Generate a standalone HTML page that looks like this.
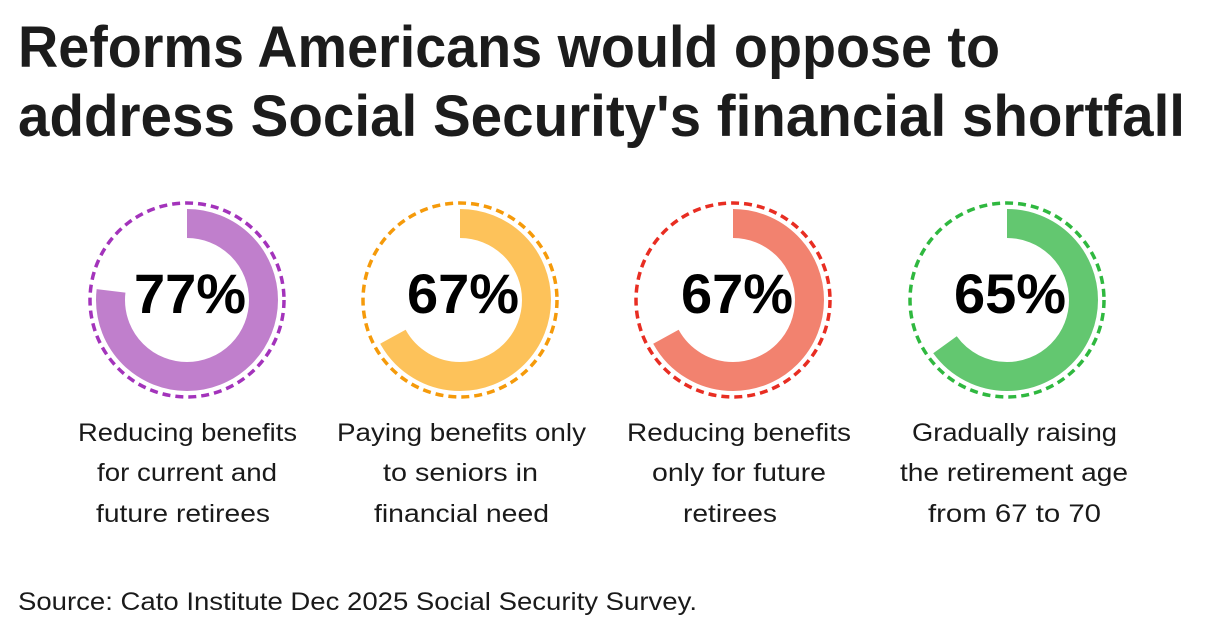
<!DOCTYPE html>
<html><head><meta charset="utf-8"><style>
body{margin:0;background:#fff;}
svg{display:block;}
</style></head><body>
<svg width="1210" height="634" viewBox="0 0 1210 634" xmlns="http://www.w3.org/2000/svg">
<rect width="1210" height="634" fill="#fff"/>
<g font-family="Liberation Sans, sans-serif" font-weight="bold" fill="#1c1c1c" font-size="58">
<text x="18" y="67" textLength="982" lengthAdjust="spacingAndGlyphs">Reforms Americans would oppose to</text>
<text x="18" y="136" textLength="1167" lengthAdjust="spacingAndGlyphs">address Social Security's financial shortfall</text>
</g>
<g fill="none">
<circle cx="187" cy="300" r="97" stroke="#a333bb" stroke-width="3.5" stroke-dasharray="8 5"/>
<circle cx="187" cy="300" r="76.5" stroke="#c07fcc" stroke-width="29" stroke-dasharray="369.5 1000" transform="rotate(-90 187 300)"/>
<circle cx="460" cy="300" r="97" stroke="#f59a0a" stroke-width="3.5" stroke-dasharray="8 5"/>
<circle cx="460" cy="300" r="76.5" stroke="#fdc25a" stroke-width="29" stroke-dasharray="322 1000" transform="rotate(-90 460 300)"/>
<circle cx="733" cy="300" r="97" stroke="#e82d22" stroke-width="3.5" stroke-dasharray="8 5"/>
<circle cx="733" cy="300" r="76.5" stroke="#f2826f" stroke-width="29" stroke-dasharray="322 1000" transform="rotate(-90 733 300)"/>
<circle cx="1007" cy="300" r="97" stroke="#2fb83f" stroke-width="3.5" stroke-dasharray="8 5"/>
<circle cx="1007" cy="300" r="76.5" stroke="#63c770" stroke-width="29" stroke-dasharray="312.5 1000" transform="rotate(-90 1007 300)"/>
</g>
<g font-family="Liberation Sans, sans-serif" font-weight="bold" font-size="56" fill="#000" text-anchor="middle">
<text x="190" y="313">77%</text>
<text x="463" y="313">67%</text>
<text x="737" y="313">67%</text>
<text x="1010" y="313">65%</text>
</g>
<g font-family="Liberation Sans, sans-serif" font-size="25" fill="#1a1a1a">
<text x="78" y="441" textLength="219" lengthAdjust="spacingAndGlyphs">Reducing benefits</text>
<text x="97" y="481" textLength="180" lengthAdjust="spacingAndGlyphs">for current and</text>
<text x="96" y="522" textLength="174" lengthAdjust="spacingAndGlyphs">future retirees</text>
<text x="337" y="441" textLength="249" lengthAdjust="spacingAndGlyphs">Paying benefits only</text>
<text x="383" y="481" textLength="155" lengthAdjust="spacingAndGlyphs">to seniors in</text>
<text x="374" y="522" textLength="175" lengthAdjust="spacingAndGlyphs">financial need</text>
<text x="627" y="441" textLength="224" lengthAdjust="spacingAndGlyphs">Reducing benefits</text>
<text x="652" y="481" textLength="174" lengthAdjust="spacingAndGlyphs">only for future</text>
<text x="683" y="522" textLength="94" lengthAdjust="spacingAndGlyphs">retirees</text>
<text x="912" y="441" textLength="205" lengthAdjust="spacingAndGlyphs">Gradually raising</text>
<text x="900" y="481" textLength="228" lengthAdjust="spacingAndGlyphs">the retirement age</text>
<text x="928" y="522" textLength="173" lengthAdjust="spacingAndGlyphs">from 67 to 70</text>
</g>
<text x="18" y="610" font-family="Liberation Sans, sans-serif" font-size="25" fill="#1a1a1a" textLength="679" lengthAdjust="spacingAndGlyphs">Source: Cato Institute Dec 2025 Social Security Survey.</text>
</svg>
</body></html>
